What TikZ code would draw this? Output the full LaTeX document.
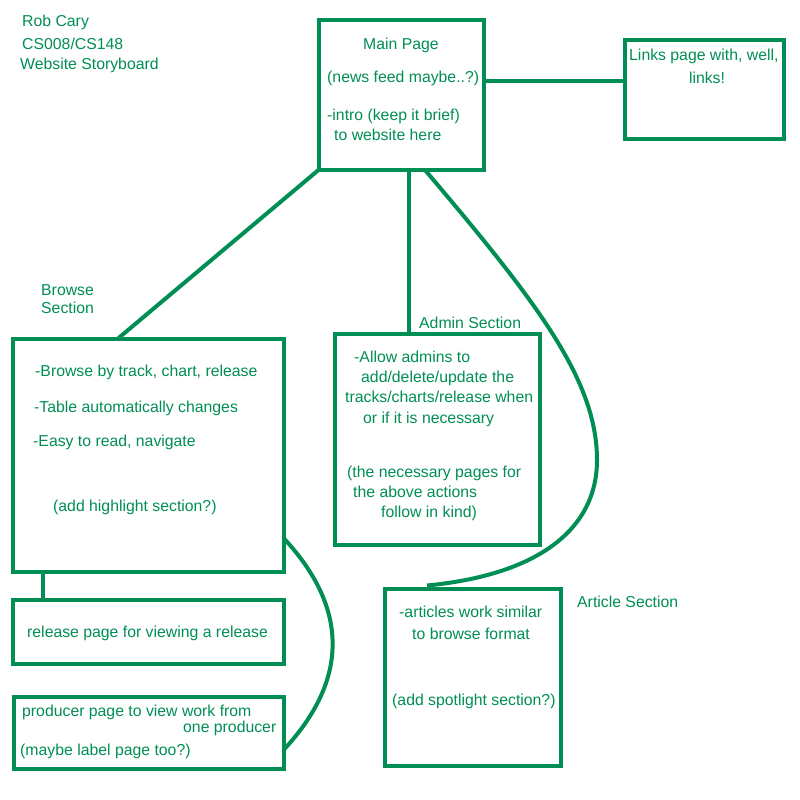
\documentclass[tikz,border=0pt]{standalone}
\usepackage{fontspec}
\setmainfont{Liberation Sans}
\usetikzlibrary{calc}
\definecolor{sbgreen}{RGB}{0,142,84}
\begin{document}
\begin{tikzpicture}[x=1pt,y=-1pt,
  box/.style={draw=sbgreen,line width=4pt,rectangle,inner sep=0pt,outer sep=0pt},
  conn/.style={draw=sbgreen,line width=4pt},
  txt/.style={text=sbgreen,inner sep=0pt,anchor=base west,font=\fontsize{15.8}{19}\selectfont},
  ctxt/.style={txt,anchor=base}]
\useasboundingbox (0,0) rectangle (800,800);

% boxes
\node[box,minimum width=165pt,minimum height=150pt] (main) at (401,95) {};
\node[box,minimum width=159pt,minimum height=98pt] (links) at (704,89.5) {};
\node[box,minimum width=271pt,minimum height=233pt] (browse) at (148,455) {};
\node[box,minimum width=205pt,minimum height=211.5pt] (admin) at (437.5,439.25) {};
\node[box,minimum width=271pt,minimum height=64pt] (release) at (148,631.5) {};
\node[box,minimum width=269.5pt,minimum height=72pt] (producer) at (148.75,732.5) {};
\node[box,minimum width=176pt,minimum height=177pt] (article) at (473,677) {};

% helper coordinates
\coordinate (ly) at (0,81);
\coordinate (ax) at (408.5,0);
\coordinate (rx) at (42.5,0);

% connectors
\draw[conn] (main.east |- ly) -- (links.west |- ly);
\draw[conn] (main.south west) -- ($(browse.north west)+(105.5,0)$);
\draw[conn] (main.south -| ax) -- (admin.north -| ax);
\draw[conn] (browse.south -| rx) -- (release.north -| rx);
\draw[conn] ($(browse.east)+(0,83)$) .. controls (349,608) and (349,680) .. ($(producer.east)+(0,17.5)$);
\draw[conn] ($(main.south)+(24,0)$) .. controls (537,302) and (597,380) .. (597,460)
  .. controls (597,530) and (537,575) .. ($(article.north)+(-46,-3)$);

% title
\node[txt] (t1) at (22,27) {Rob Cary};
\node[txt] (t2) at (22,49) {CS008/CS148};
\node[txt] (t3) at (20,70) {Website Storyboard};

% main page text
\node[ctxt] (m1) at (401,50) {Main Page};
\node[txt] (m2) at (327,82) {(news feed maybe..?)};
\node[txt] (m3) at (327,120) {-intro (keep it brief)};
\node[txt] (m4) at (334,140) {to website here};

% links text
\node[txt] (l1) at (629,61) {Links page with, well,};
\node[ctxt] (l2) at (707,83) {links!};

% browse
\node[txt] (b0) at (41,295) {Browse};
\node[txt] (b00) at (41,313) {Section};
\node[txt] (b1) at (35,376) {-Browse by track, chart, release};
\node[txt] (b2) at (34,412) {-Table automatically changes};
\node[txt] (b3) at (33,446) {-Easy to read, navigate};
\node[txt] (b4) at (53,511) {(add highlight section?)};

% admin
\node[txt] (a0) at (419,328) {Admin Section};
\node[txt] (a1) at (354,362) {-Allow admins to};
\node[txt] (a2) at (361,382) {add/delete/update the};
\node[txt] (a3) at (345,402) {tracks/charts/release when};
\node[txt] (a4) at (363,423) {or if it is necessary};
\node[txt] (a5) at (347,477) {(the necessary pages for};
\node[txt] (a6) at (353,497) {the above actions};
\node[txt] (a7) at (381,517) {follow in kind)};

% release
\node[txt] (r1) at (27,637) {release page for viewing a release};

% producer
\node[txt] (p1) at (22,716) {producer page to view work from};
\node[txt] (p2) at (183,732) {one producer};
\node[txt] (p3) at (20,755) {(maybe label page too?)};

% article
\node[txt] (c0) at (577,607) {Article Section};
\node[txt] (c1) at (399,617) {-articles work similar};
\node[txt] (c2) at (412,639) {to browse format};
\node[txt] (c3) at (392,705) {(add spotlight section?)};
\end{tikzpicture}
\end{document}
